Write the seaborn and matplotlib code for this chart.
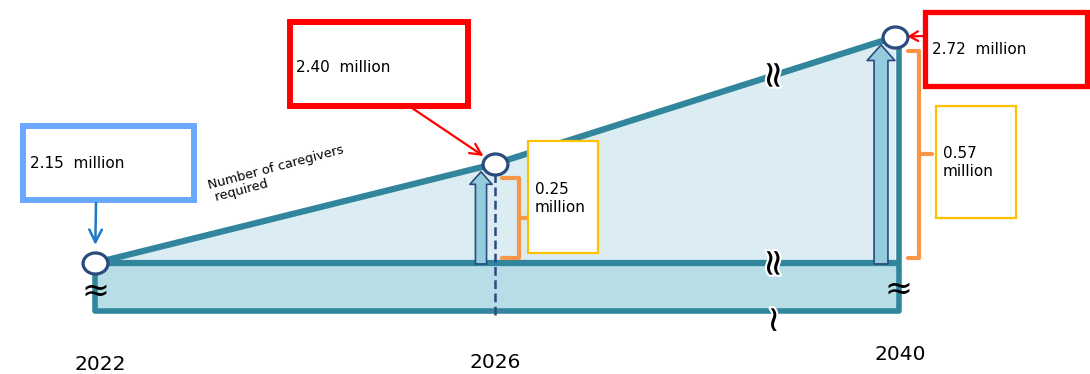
import numpy as np
import matplotlib
matplotlib.use("Agg")
import matplotlib.pyplot as plt
import matplotlib.patheffects as pe
from matplotlib.patches import Rectangle
from matplotlib.path import Path
from matplotlib.transforms import Affine2D
import seaborn as sns

# values
years = ["2022", "2026", "2040"]
needed = [2.15, 2.40, 2.72]      # caregivers required, million
increase = [0.25, 0.57]          # extra caregivers vs 2022, million
line_label = "Number of caregivers\n required"

W, H = 1090, 374
TEAL = "#31859c"
LIGHT = "#dbedf3"
BAND = "#b7dde7"
NAVY = "#2b4a7e"
ARROW_FILL = "#93cddd"
ORANGE = "#f79646"
YELLOW = "#ffc000"
RED = "#ff0000"
BLUE_BOX = "#6aa8ff"
BLUE_ARR = "#1f77c8"

sns.set_theme(style="white")
plt.rcParams["font.family"] = ["DejaVu Sans"]
plt.rcParams["text.color"] = "black"

fig = plt.figure(figsize=(W / 100, H / 100), dpi=100)
ax = fig.add_axes([0, 0, 1, 1])

xpos = np.arange(len(years))
base = needed[0]
ymin, ymax = 1.87, 2.813          # broken axis, only the top part is shown
floor = 2.03                      # bottom of the "cut" band
ppm = H / (ymax - ymin)           # pixels per million


def dy(p):
    return p / ppm


def dx(p):
    return p / 400


def fpos(x, y):
    # pixel (top-left origin) -> figure fraction
    return (x / W, 1 - y / H)


def box(x0, y0, x1, y1, color, lw):
    r = Rectangle(fpos(x0, y1), (x1 - x0) / W, (y1 - y0) / H, transform=fig.transFigure,
                  facecolor="white", edgecolor=color, lw=lw, clip_on=False, zorder=6)
    ax.add_patch(r)


# shaded areas
ax.fill_between([0, 2 + dx(4)], floor, base, color=BAND, lw=0, zorder=1)
ax.fill_between(xpos, needed, base, color=LIGHT, lw=0, zorder=1)

# frame of the band + baseline
ax.plot([0, 0, 2 + dx(4), 2 + dx(4)], [base, floor, floor, needed[-1]], color=TEAL, lw=4,
        solid_joinstyle="round", solid_capstyle="round", zorder=2)
ax.plot([0, 2], [base, base], color=TEAL, lw=4.5, zorder=2)

# the demand line
sns.lineplot(x=xpos, y=needed, color=TEAL, lw=4.5, ax=ax, zorder=3)

# dashed guide at 2026
ax.plot([1, 1], [floor - dy(4), needed[1]], color=NAVY, lw=1.8, dashes=(3.5, 1.8), zorder=3)

# block arrows showing the increase
for i, ms in zip([1, 2], [10, 12.5]):
    ax.annotate("", xy=(i - dx(14), needed[i] - dy(8)), xytext=(i - dx(14), base - dy(1)),
                arrowprops=dict(arrowstyle="simple,head_length=0.9,head_width=1.6,tail_width=0.8",
                                mutation_scale=ms, fc=ARROW_FILL, ec=NAVY, lw=1.2,
                                shrinkA=0, shrinkB=0), zorder=4)

# orange brackets
for i, (xv, x0, xt) in zip([1, 2], [(24, 7, 36), (24, 13, 37)]):
    top = needed[i] - dy(14)
    bot = base + dy(5)
    mid = (top + bot) / 2
    ax.plot([i + dx(x0), i + dx(xv), i + dx(xv), i + dx(x0)], [top, top, bot, bot],
            color=ORANGE, lw=3, solid_joinstyle="round", zorder=3)
    ax.plot([i + dx(xv), i + dx(xt)], [mid, mid], color=ORANGE, lw=3, zorder=3)

# points (slightly wide ellipse)
ell = Path.unit_circle().transformed(Affine2D().scale(1.18, 1.0))
sns.scatterplot(x=xpos, y=needed, marker=ell, s=320, color="white", edgecolor=NAVY,
                linewidth=2.3, ax=ax, zorder=5)

# break marks
xb = 1 + dx(280)
brk = [pe.withStroke(linewidth=3, foreground="white")]
ax.text(xb, np.interp(xb, xpos, needed), "≈", rotation=90, fontsize=27,
        ha="center", va="center", path_effects=brk, zorder=4)
ax.text(xb, base, "≈", rotation=90, fontsize=27,
        ha="center", va="center", path_effects=brk, zorder=4)
ax.text(xb, floor - dy(9), "~", rotation=90, fontsize=26,
        ha="center", va="center", path_effects=brk, zorder=4)
ax.text(0, floor + dy(19), "≈", fontsize=24, ha="center", va="center", zorder=4)
ax.text(2 + dx(3), floor + dy(21), "≈", fontsize=24, ha="center", va="center", zorder=4)

# line label
ax.text(*fpos(213, 205), line_label, transform=fig.transFigure, rotation=15,
        rotation_mode="anchor", ha="left", va="bottom", fontsize=9.3, linespacing=1.05)

# value boxes
box(23, 126, 194, 200, BLUE_BOX, 4.3)
ax.text(*fpos(30, 163), f"{needed[0]:.2f}  million", transform=fig.transFigure,
        fontsize=11, va="center", zorder=7)
box(290, 22, 468, 106, RED, 4.3)
ax.text(*fpos(296, 67), f"{needed[1]:.2f}  million", transform=fig.transFigure,
        fontsize=11, va="center", zorder=7)
box(924.5, 11.5, 1086.5, 85.5, RED, 3.8)
ax.text(*fpos(932, 49), f"{needed[2]:.2f}  million", transform=fig.transFigure,
        fontsize=11, va="center", zorder=7)
box(528, 141, 598, 253, YELLOW, 1.6)
ax.text(*fpos(535, 198), f"{increase[0]:.2f}\nmillion", transform=fig.transFigure,
        fontsize=11, va="center", linespacing=1.25, zorder=7)
box(936, 106, 1016, 218, YELLOW, 1.6)
ax.text(*fpos(943, 163), f"{increase[1]:.2f}\nmillion", transform=fig.transFigure,
        fontsize=11, va="center", linespacing=1.25, zorder=7)

# pointers from boxes to points
ax.annotate("", xy=(0, needed[0]), xytext=fpos(96, 203), textcoords="figure fraction",
            arrowprops=dict(arrowstyle="->,head_length=0.9,head_width=0.45", color=BLUE_ARR,
                            lw=1.8, mutation_scale=10, shrinkA=0, shrinkB=13), zorder=7)
ax.annotate("", xy=(1, needed[1]), xytext=fpos(412, 108), textcoords="figure fraction",
            arrowprops=dict(arrowstyle="->,head_length=0.8,head_width=0.4", color=RED,
                            lw=1.6, mutation_scale=10, shrinkA=0, shrinkB=10), zorder=7)
ax.annotate("", xy=(2, needed[2]), xytext=fpos(923, 36), textcoords="figure fraction",
            arrowprops=dict(arrowstyle="->,head_length=0.6,head_width=0.35", color=RED,
                            lw=1.6, mutation_scale=10, shrinkA=0, shrinkB=9), zorder=7)

# year labels under the chart
for i, (yr, xoff, ypx) in enumerate(zip(years, [5, 0, 5], [364, 362, 355])):
    ax.text(i + dx(xoff), 1 - ypx / H, yr, transform=ax.get_xaxis_transform(),
            fontsize=14.5, ha="center", va="center")

ax.set_xlim(-dx(95), dx(W - 95))
ax.set_ylim(ymin, ymax)
ax.set_axis_off()

fig.savefig("out.png", dpi=100, facecolor="white")
